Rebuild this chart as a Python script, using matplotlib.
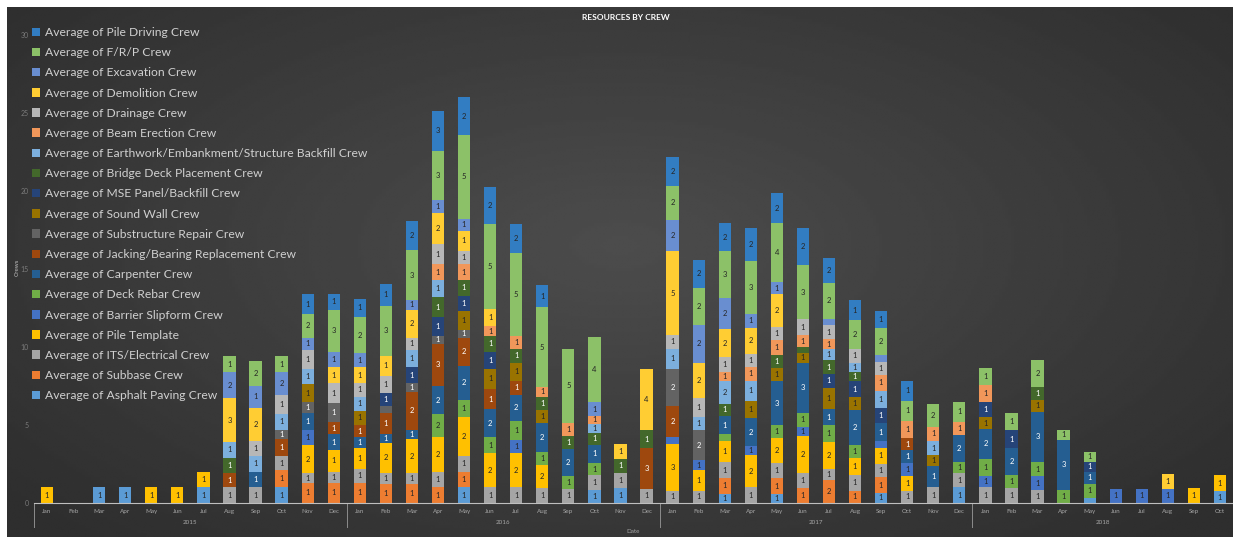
import numpy as np
import matplotlib.pyplot as plt
import matplotlib.transforms as mtransforms

# months Jan 2015 .. Oct 2018
months = ['Jan', 'Feb', 'Mar', 'Apr', 'May', 'Jun', 'Jul', 'Aug', 'Sep', 'Oct', 'Nov', 'Dec'] * 3 + \
         ['Jan', 'Feb', 'Mar', 'Apr', 'May', 'Jun', 'Jul', 'Aug', 'Sep', 'Oct']
years = ['2015', '2016', '2017', '2018']
months_per_year = [12, 12, 12, 10]

# average crews per month, one list per crew (2015 | 2016 | 2017 | 2018)
asphalt_paving = [0, 0, 1, 1, 0, 0, 1, 0, 0, 1, 0, 0] + [0, 0, 0, 0, 1, 0, 0, 0, 0, 0.85, 0.95, 0] + \
                 [0, 0, 0.6, 0, 0.55, 0, 0, 0, 0.65, 0, 0, 1.0] + [0, 0, 0, 0, 0.3, 0, 0, 0, 0, 0.75]
subbase = [0, 0, 0, 0, 0, 0, 0, 0, 0, 1.1, 1.3, 1.3] + [1.3, 1.2, 1.2, 1.0, 1.0, 0, 0, 0, 0, 0, 0, 0] + \
          [0, 0, 1.0, 0, 1.05, 0.95, 1.5, 0.8, 1.0, 0, 0, 0] + [0] * 10
its_electrical = [0, 0, 0, 0, 0, 0, 0, 1, 1, 0.9, 0.6, 0.7] + [0.9, 0.75, 0.7, 1.0, 1.0, 1.0, 1.0, 0.95, 0.9, 0.95, 0.95, 0.9] + \
                 [0.8, 0.8, 1.0, 1.0, 0.95, 0.95, 0.7, 1.0, 0.85, 0.8, 1.0, 0.9] + [1.0, 0.95, 0.85, 0, 0, 0, 0, 0, 0, 0]
pile_template = [1, 0, 0, 0, 1, 1, 1, 0, 0, 0, 1.8, 1.4] + [1.3, 1.9, 2.2, 2.2, 2.5, 2.2, 2.2, 1.5, 0, 0, 0, 0] + \
                [3.0, 1.3, 1.4, 2.1, 1.6, 2.4, 1.7, 1.1, 1.05, 0.95, 0, 0] + [0, 0, 0, 0, 0, 0, 0, 0, 0.95, 1.05]
barrier_slipform = [0, 0, 0, 0, 0, 0, 0, 0, 0, 0, 1.0, 0] + [0, 0, 0, 0, 0, 0, 0.85, 0, 0, 0, 0, 0] + \
                   [0.4, 0.65, 0, 0.55, 0, 0.55, 0, 0, 0.4, 0.8, 0, 0] + [0.75, 0, 0.85, 0, 0, 0.9, 0.9, 0.9, 0, 0]
deck_rebar = [0] * 12 + [0, 0, 0, 1.5, 1.1, 1.0, 1.2, 0.85, 0.85, 0.75, 0, 0] + \
             [0, 0, 0.4, 0, 0.85, 0.95, 1.1, 0.85, 0, 0, 0, 0.75] + [1.1, 0.85, 0.95, 0.85, 0.95, 0, 0, 0, 0, 0]
carpenter = [0, 0, 0, 0, 0, 0, 0, 0, 1, 0, 1.1, 1.0] + [0.7, 0.55, 0.6, 1.8, 2.2, 1.8, 1.7, 1.8, 1.7, 1.2, 0, 0] + \
            [0, 0, 1.2, 1.8, 2.8, 3.2, 1.0, 2.2, 1.2, 0.85, 1.4, 1.7] + [1.9, 1.7, 3.2, 3.2, 0.75, 0, 0, 0, 0, 0]
jacking_bearing = [0, 0, 0, 0, 0, 0, 0, 0.9, 0, 1.1, 0, 0.8] + [0.8, 1.4, 2.4, 2.7, 1.8, 1.3, 0.85, 0, 0, 0, 0, 2.6] + \
                  [2.0, 0, 0, 0, 0, 0, 0, 0, 0, 0.75, 0, 0] + [0] * 10
substructure_repair = [0, 0, 0, 0, 0, 0, 0, 0, 0, 0.6, 0.7, 1.2] + [0, 0.4, 0.6, 0.5, 0.5, 0, 0, 0, 0, 0, 0, 0] + \
                      [2.4, 1.9, 0, 0, 0, 0, 0, 0, 0, 0, 0, 0] + [0] * 10
sound_wall = [0, 0, 0, 0, 0, 0, 0, 0, 0, 0, 1.1, 0] + [0.9, 0, 0, 0, 1.2, 1.3, 1.2, 0.85, 0, 0, 0, 0] + \
             [0, 0, 0, 1.1, 0.85, 0.6, 1.4, 0.85, 0, 0, 0.65, 0] + [0.75, 0, 0.75, 0, 0, 0, 0, 0, 0, 0]
mse_panel = [0] * 12 + [0, 0.85, 1.0, 1.2, 1.0, 1.1, 0, 0, 0, 0, 0, 0] + \
            [0, 0, 0, 0, 0, 0, 0.85, 1.0, 0.95, 0, 0, 0] + [0.95, 1.2, 0, 0, 0.65, 0, 0, 0, 0, 0]
bridge_deck = [0, 0, 0, 0, 0, 0, 0, 1, 0, 0, 0, 0] + [0, 0, 0, 1.3, 1.0, 1.0, 0.85, 0.85, 0.85, 0.75, 0.95, 1.2] + \
              [0, 0, 0.75, 0, 0.85, 0.4, 0.9, 0.6, 0, 0, 0, 0] + [0, 0, 0.85, 0, 0, 0, 0, 0, 0, 0]
earthwork = [0, 0, 0, 0, 0, 0, 0, 1, 1, 1, 1, 0] + [0.9, 0, 1.1, 1.1, 0, 0, 0, 0, 0, 0.55, 0, 0] + \
            [1.3, 0.85, 1.5, 1.3, 0, 0, 0.7, 0.55, 1.1, 0, 0.95, 0] + [0] * 10
beam_erection = [0] * 12 + [0, 0, 0, 1.0, 1.0, 0.65, 0.85, 0.65, 0.85, 0.55, 0, 0] + \
                [0, 0, 0.55, 0.85, 0.95, 0.75, 0.65, 0, 1.0, 1.1, 0.85, 0.85] + [1.1, 0, 0, 0, 0, 0, 0, 0, 0, 0]
drainage = [0, 0, 0, 0, 0, 0, 0, 0, 1.0, 1.2, 1.2, 1.3] + [0.9, 1.1, 0.8, 1.3, 0.85, 0, 0, 0, 0, 0, 0, 0] + \
           [0.85, 1.2, 0.95, 0.85, 0.85, 1.05, 0.9, 0.95, 0.85, 0, 0, 0] + [0] * 10
demolition = [0, 0, 0, 0, 0, 0, 0, 2.8, 2.1, 0, 0, 1.0] + [1.0, 1.3, 1.8, 2.0, 1.3, 1.1, 0, 0, 0, 0, 0.95, 3.9] + \
             [5.4, 2.3, 1.8, 1.7, 2.1, 0, 0, 0, 0, 0, 0, 0] + [0, 0, 0, 0, 0, 0, 0, 0.95, 0, 0]
excavation = [0, 0, 0, 0, 0, 0, 0, 1.7, 1.4, 1.5, 0.8, 1.0] + [0.9, 0, 0.6, 0.85, 0.75, 0, 0, 0, 0, 0.85, 0, 0] + \
             [2.0, 2.4, 2.0, 0.85, 0.75, 0, 0.4, 0, 0.45, 0, 0, 0] + [0] * 10
frp = [0, 0, 0, 0, 0, 0, 0, 1, 1.6, 1, 1.5, 2.7] + [2.3, 3.2, 3.2, 3.1, 5.4, 5.45, 5.3, 5.1, 4.7, 4.2, 0, 0] + \
      [2.2, 2.4, 3.0, 3.4, 3.8, 3.45, 2.3, 1.8, 1.7, 1.3, 1.5, 1.3] + [1.1, 1.05, 1.7, 0.65, 0.65, 0, 0, 0, 0, 0]
pile_driving = [0, 0, 0, 0, 0, 0, 0, 0, 0, 0, 1.3, 1.0] + [1.2, 1.4, 1.9, 2.6, 2.4, 2.35, 1.9, 1.4, 0, 0, 0, 0] + \
               [1.8, 1.8, 1.8, 2.1, 1.9, 2.35, 1.6, 1.3, 1.1, 1.3, 0, 0] + [0] * 10

# bottom of the stack first
series = [
    ('Asphalt Paving Crew', asphalt_paving, '#5B9BD5'),
    ('Subbase Crew', subbase, '#ED7D31'),
    ('ITS/Electrical Crew', its_electrical, '#A5A5A5'),
    ('Pile Template', pile_template, '#FFC000'),
    ('Barrier Slipform Crew', barrier_slipform, '#4472C4'),
    ('Deck Rebar Crew', deck_rebar, '#70AD47'),
    ('Carpenter Crew', carpenter, '#255E91'),
    ('Jacking/Bearing Replacement Crew', jacking_bearing, '#9E480E'),
    ('Substructure Repair Crew', substructure_repair, '#636363'),
    ('Sound Wall Crew', sound_wall, '#997300'),
    ('MSE Panel/Backfill Crew', mse_panel, '#264478'),
    ('Bridge Deck Placement Crew', bridge_deck, '#43682B'),
    ('Earthwork/Embankment/Structure Backfill Crew', earthwork, '#7CAFDD'),
    ('Beam Erection Crew', beam_erection, '#F1975A'),
    ('Drainage Crew', drainage, '#B7B7B7'),
    ('Demolition Crew', demolition, '#FFCD33'),
    ('Excavation Crew', excavation, '#698ED0'),
    ('F/R/P Crew', frp, '#8CC168'),
    ('Pile Driving Crew', pile_driving, '#327DC2'),
]
dark = {'#255E91', '#9E480E', '#636363', '#264478', '#43682B'}

plt.rcParams['font.family'] = ['Lato', 'DejaVu Sans']

W, H = 1233, 539
fig = plt.figure(figsize=(W / 100, H / 100), dpi=100)
fig.patch.set_facecolor('white')

# dark chart area with a soft radial shading
bg = fig.add_axes([7 / W, 2 / H, (W - 7) / W, 530 / H])
gx, gy = np.meshgrid(np.linspace(-1, 1, 400), np.linspace(-1, 1, 200))
r = np.sqrt((gx * 0.9) ** 2 + ((gy + 0.1) * 0.8) ** 2)
shade = 0.30 - 0.12 * np.clip(r, 0, 1.2) / 1.2
bg.imshow(shade, cmap='gray', vmin=0, vmax=1, aspect='auto', interpolation='bilinear')
bg.axis('off')

ax = fig.add_axes([34 / W, 36 / H, 1199 / W, 468 / H])
ax.set_facecolor('none')
x = np.arange(len(months))
bottom = np.zeros(len(months))
for name, vals, col in series:
    vals = np.array(vals, dtype=float)
    bars = ax.bar(x, vals, 0.47, bottom=bottom, color=col, label='Average of ' + name, zorder=2)
    labs = ['%d' % max(1, round(v)) if v >= 0.5 else '' for v in vals]
    ax.bar_label(bars, labels=labs, label_type='center', fontsize=5.5,
                 color='white' if col in dark else '#262626', zorder=3)
    bottom += vals

ax.set_xlim(-0.5, 45.5)
ax.set_ylim(0, 30)
for s in ['top', 'right', 'left']:
    ax.spines[s].set_visible(False)
ax.spines['bottom'].set_color('#bfbfbf')
ax.spines['bottom'].set_linewidth(0.8)
ax.set_yticks(range(0, 31, 5))
ax.tick_params(axis='y', length=0, labelsize=5, labelcolor='#7a7a7a', pad=4)
ax.set_xticks(x)
ax.set_xticklabels(months)
ax.tick_params(axis='x', length=0, labelsize=4.5, labelcolor='#a6a6a6', pad=4)

# year grouping under the month labels
trans = mtransforms.blended_transform_factory(ax.transData, ax.transAxes)
start = 0
edges = [-0.5]
for yr, n in zip(years, months_per_year):
    ax.text(start + (n - 1) / 2, -0.042, yr, transform=trans, ha='center', va='center',
            fontsize=4.5, color='#a6a6a6')
    start += n
    edges.append(start - 0.5)
for e in edges:
    ax.plot([e, e], [0, -0.052], transform=trans, color='#8c8c8c', lw=0.7, clip_on=False)
ax.text(0.5, -0.06, 'Date', transform=ax.transAxes, ha='center', va='center',
        fontsize=4.5, color='#a6a6a6')

fig.text(17 / W, 1 - 267 / H, 'Crews', rotation=90, ha='center', va='center',
         fontsize=4.5, color='#bfbfbf')
fig.text(626 / W, 1 - 17 / H, 'RESOURCES BY CREW', ha='center', va='center',
         fontsize=6, color='white', fontweight='bold')

handles, labels = ax.get_legend_handles_labels()
ax.legend(handles[::-1], labels[::-1], loc='upper left', bbox_to_anchor=(32 / W, 1 - 27 / H),
          bbox_transform=fig.transFigure, frameon=False, fontsize=8.7, labelcolor='#d0d0d0',
          handlelength=0.7, handleheight=0.7, handletextpad=0.4, labelspacing=0.76,
          borderpad=0, borderaxespad=0)

fig.savefig('out.png', dpi=100)
